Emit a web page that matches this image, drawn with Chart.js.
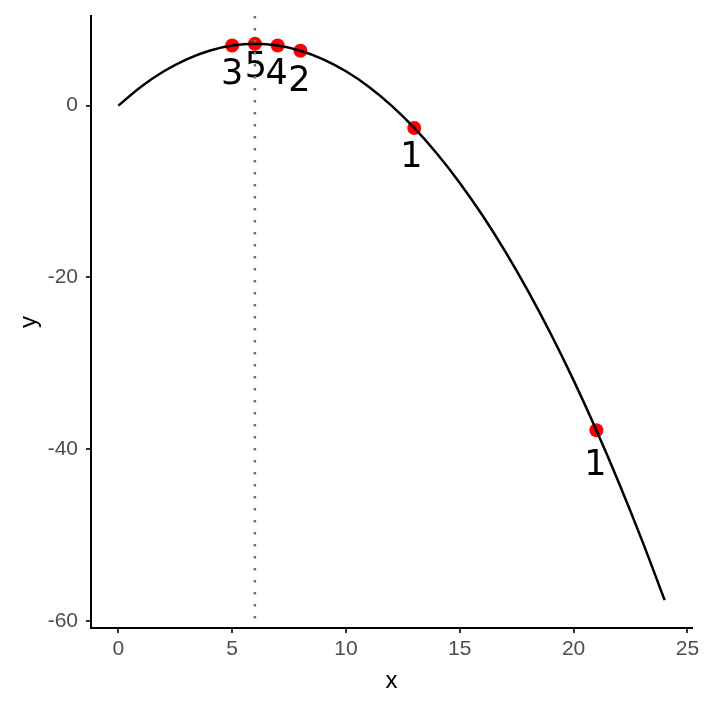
<!DOCTYPE html>
<html>
<head>
<meta charset="utf-8">
<script src="https://cdn.jsdelivr.net/npm/chart.js@4.4.1/dist/chart.umd.min.js"></script>
<style>
  html, body { margin: 0; padding: 0; background: #fff; }
  #wrap { width: 708px; height: 708px; }
</style>
</head>
<body>
<div id="wrap"><canvas id="chart" width="708" height="708"></canvas></div>
<script>
// Curve at whole x steps
const curveX = [0, 1, 2, 3, 4, 5, 6, 7, 8, 9, 10, 11, 12, 13, 14, 15, 16, 17, 18, 19, 20, 21, 22, 23, 24];
const curveY = [0, 2.2, 4.0, 5.4, 6.4, 7.0, 7.2, 7.0, 6.4, 5.4, 4.0, 2.2, 0, -2.6, -5.6, -9.0, -12.8, -17.0, -21.6, -26.6, -32.0, -37.8, -44.0, -50.6, -57.6];

// Red points and their labels
const pointX = [5, 6, 7, 8, 13, 21];
const pointY = [7.0, 7.2, 7.0, 6.4, -2.6, -37.8];
const pointLabels = ['3', '5', '4', '2', '1', '1'];

// dotted reference line
const vlineX = 6;

// tick labels
const xTicks = [0, 5, 10, 15, 20, 25];
const yTicks = [-60, -40, -20, 0];

// label offsets from the dot (px), like a repel layout
const labelNudge = [[0, 29], [1, 24], [-1, 29], [-1, 31], [-3, 30], [-1, 36]];

const labelPlugin = {
    id: 'pointLabels',
    afterDatasetsDraw(chart) {
        const ctx = chart.ctx;
        const xs = chart.scales.x, ys = chart.scales.y;
        ctx.save();
        ctx.fillStyle = '#000';
        ctx.font = '35px "DejaVu Sans"';
        ctx.textAlign = 'center';
        ctx.textBaseline = 'middle';
        pointLabels.forEach(function(t, i) {
            const px = xs.getPixelForValue(pointX[i]) + labelNudge[i][0];
            const py = ys.getPixelForValue(pointY[i]) + labelNudge[i][1];
            ctx.fillText(t, px, py);
        });
        // vertical dotted line over everything
        const vx = xs.getPixelForValue(vlineX);
        ctx.strokeStyle = '#6e6e6e';
        ctx.lineWidth = 2.5;
        ctx.setLineDash([2.5, 9.5]);
        ctx.beginPath();
        ctx.moveTo(vx, chart.chartArea.top);
        ctx.lineTo(vx, chart.chartArea.bottom);
        ctx.stroke();
        ctx.restore();
    }
};

const tickFont = { family: '"Liberation Sans", Arial, sans-serif', size: 21 };
const titleFont = { family: '"Liberation Sans", Arial, sans-serif', size: 24 };

new Chart(document.getElementById('chart'), {
    type: 'scatter',
    data: {
        datasets: [{
            type: 'line',
            data: curveX.map(function(x, i) { return { x: x, y: curveY[i] }; }),
            borderColor: '#000',
            borderWidth: 2.5,
            pointRadius: 0,
            tension: 0.4,
            fill: false
        }, {
            data: pointX.map(function(x, i) { return { x: x, y: pointY[i] }; }),
            backgroundColor: '#ff0000',
            borderColor: '#ff0000',
            pointRadius: 7,
            borderWidth: 0
        }]
    },
    options: {
        responsive: false,
        animation: false,
        events: [],
        layout: { padding: { top: 16, right: 16, left: 0, bottom: 0 } },
        plugins: { legend: { display: false }, tooltip: { enabled: false } },
        scales: {
            x: {
                type: 'linear',
                min: -1.2,
                max: 25.2,
                afterBuildTicks: function(s) { s.ticks = xTicks.map(function(v) { return { value: v }; }); },
                afterFit: function(s) { s.height = 80; s.paddingLeft = 0; s.paddingRight = 0; },
                grid: { drawOnChartArea: false, drawTicks: true, tickLength: 5, color: '#333', lineWidth: 2 },
                border: { display: true, color: '#000', width: 2 },
                ticks: { color: '#4d4d4d', font: tickFont, padding: 4, maxRotation: 0 },
                title: { display: true, text: 'x', color: '#000', font: titleFont, padding: { bottom: 12 } }
            },
            y: {
                type: 'linear',
                min: -60.84,
                max: 10.44,
                afterBuildTicks: function(s) { s.ticks = yTicks.map(function(v) { return { value: v }; }); },
                afterFit: function(s) { s.width = 91; s.paddingTop = 0; s.paddingBottom = 0; },
                grid: { drawOnChartArea: false, drawTicks: true, tickLength: 5, color: '#333', lineWidth: 2 },
                border: { display: true, color: '#000', width: 2 },
                ticks: { color: '#4d4d4d', font: tickFont, padding: 8 },
                title: { display: true, text: 'y', color: '#000', font: titleFont, padding: { top: 15 } }
            }
        }
    },
    plugins: [labelPlugin]
});
</script>
</body>
</html>
